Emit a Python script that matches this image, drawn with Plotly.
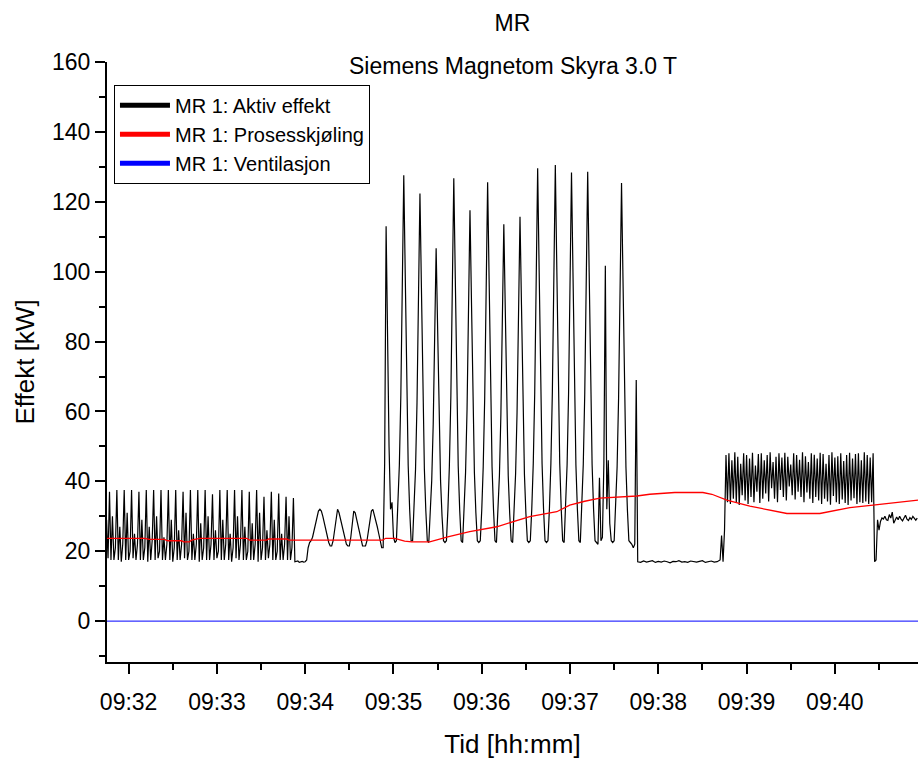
import pandas as pd
import plotly.graph_objects as go

BASE = pd.Timestamp("2024-01-01 09:31:45")

# ---------------- Black: MR 1: Aktiv effekt (kW), 1 s samples unless noted ----------------
# seconds after 09:31:45
p1_start = 0
phase1 = [29, 18,
          37, 17.5, 30, 17.5, 21,
          37.5, 17.5, 27, 17, 22,
          37.5, 17.5, 31, 17.5, 20,
          37.5, 18, 25, 17.5, 22,
          37, 17.5, 29, 17.5, 21,
          37.5, 17, 27, 17.5, 23,
          37.5, 17.5, 30, 18, 20,
          37.5, 17.5, 24, 17.5, 22,
          37.5, 17.5, 29, 17, 21,
          37.5, 17.5, 26, 17.5, 22,
          37, 18, 31, 17.5, 20,
          37.5, 17.5, 25, 17.5, 22,
          37.5, 17, 28, 17.5, 21,
          37.5, 17.5, 30, 17.5, 22,
          36.3, 17.5, 26, 18, 20,
          37.5, 17.5, 29, 17.5, 22,
          37.5, 17.5, 25, 17, 21,
          37.5, 18, 30, 17.5, 22,
          37.5, 17.5, 27, 17.5, 20,
          37, 17.5, 28, 17.5, 22,
          37.5, 17, 31, 17.5, 21,
          35.6, 17.5, 26, 18, 22,
          37, 17.5, 29, 17.5, 20,
          36.5, 17.5, 25, 17.5, 22,
          35.6, 17.5, 30, 17.5, 21,
          35.2, 17]

flat1_start = 129
flat1 = [17, 17.2, 16.8, 17, 17.1, 16.9, 17, 17.5]

p2_start = 137
phase2 = [21, 22.5, 23, 24, 26, 28, 30, 31.5, 32, 31.5, 30, 28, 26.5, 24, 22.5, 21.5,
          21.5, 23, 26, 29.5, 32, 31, 29, 27.5, 26, 24, 22, 21.5, 21.5, 24, 28, 31.5,
          31, 29, 27, 25, 23, 21.5, 21.5, 21.5, 23, 26, 29, 31.5, 32, 30.5, 28.5, 27,
          25, 23, 21, 21]

p3_start = 189
phase3 = [45, 113, 80, 50, 32, 34, 24, 22.5,
          23, 32, 44.6, 64.5, 99.2, 127.6, 99.2, 64.5, 44.6, 32, 23,
          23, 31.5, 43.5, 62.5, 95.4, 122.4, 95.4, 62.5, 43.5, 31.5, 23,
          22.5, 30.1, 40.2, 56.2, 84, 106.7, 84, 56.2, 40.2, 30.1, 23, 22.5,
          23, 31.9, 44.4, 64.2, 98.6, 126.7, 98.6, 64.2, 44.4, 31.9, 23,
          22.5, 31.1, 42.5, 60.5, 91.9, 117.6, 91.9, 60.5, 42.5, 31.1, 23, 22.5,
          23, 31.8, 44.2, 63.7, 97.8, 125.6, 97.8, 63.7, 44.2, 31.8, 23,
          22.5, 30.7, 41.6, 59, 89, 113.6, 89, 59, 41.6, 30.7, 23,
          22.5, 30.9, 42.1, 59.8, 90.5, 115.7, 90.5, 59.8, 42.1, 30.9, 23, 22.5,
          23, 32.1, 45, 65.3, 100.7, 129.6, 100.7, 65.3, 45, 32.1, 23, 22.5,
          23, 32.2, 45.2, 65.7, 101.3, 130.5, 101.3, 65.7, 45.2, 32.2, 23,
          22.5, 32, 44.7, 64.9, 99.8, 128.4, 99.8, 64.9, 44.7, 32, 23,
          22.5, 32, 44.8, 64.9, 100, 128.6, 100, 64.9, 44.8, 32, 23, 22.5,
          22, 41, 23, 24, 45, 101.7, 32, 46, 28, 23, 22.5,
          23, 31.8, 44.1, 63.7, 97.6, 125.4, 97.6, 63.7, 44.1, 31.8, 23, 22.5, 22, 21, 22, 69]

flat2_start = 361   # 2 s samples
flat2 = [17, 16.8, 17.2, 16.9, 17, 17.3, 16.8, 17.1, 16.9, 17.2, 17, 16.7, 17.1, 17,
         17.3, 16.9, 17, 16.8, 17.2, 17, 16.9, 17.1, 17.3, 16.8, 17, 17.2, 16.9, 17, 17.5]

trans_start = 418
trans = [24.5, 17, 26]

p5_start = 421
phase5 = [47.5, 34, 48, 33.5, 46, 35, 48.3, 34, 47, 33.2, 45, 36, 48, 34.5, 47.5, 33.5,
          46.5, 35.5, 48.2, 34, 44.5, 37, 47.8, 33.8, 48, 35, 46, 36.5, 47.5, 34.2,
          48.3, 38, 45.5, 35, 47, 34, 48, 37.5, 46.8, 35.5, 48.2, 34.5, 47, 38.5,
          44.8, 36, 48, 34.8, 47.5, 37, 46.2, 35.5, 48.3, 34, 47.2, 36.8, 45.5, 35,
          48, 33.8, 47.6, 35.5, 46.5, 34.5, 48.2, 33.5, 47.8, 35, 45, 34.2, 47.5, 33.3,
          48.3, 35.8, 46.8, 34, 47.2, 33.5, 48, 34.8, 45.8, 33.8, 47.5, 33.2, 48.2, 34.5,
          46.5, 35.2, 47.8, 33.5, 48, 34, 46, 33.8, 48.3, 34.2, 47.5, 33.5, 46.8, 34, 48]

p6_start = 522
phase6 = [17, 17.5, 29, 26, 28.5, 29.5, 29.2, 30, 29, 28.8, 30.5, 29.5, 31.2, 28, 29,
          29.8, 29, 30, 29.2, 28.7, 29.5, 30.3, 29.2, 28.8, 29.6, 29.1, 30, 29.4, 28.9, 29.5]

# ---------------- Red: MR 1: Prosesskjøling ----------------
red_s = [0, 25.8, 29.2, 39.4, 41.5, 51, 52.4, 56.4, 57.8, 63.2, 95.2, 97.2, 108.8, 110.2,
         122.4, 123.8, 187.7, 189.7, 195.8, 202.6, 207.4, 219.6, 231.9, 246.8, 265.2,
         287.6, 306, 314.8, 325, 335.2, 360.4, 369.2, 386.2, 405.3, 411.4, 421.6, 437.2,
         462.4, 484.8, 505.2, 520.9, 551.5]
red_v = [23.7, 23.7, 23.4, 23.4, 23.0, 23.0, 22.7, 22.7, 23.2, 23.7, 23.7, 23.2, 23.2, 23.5,
         23.5, 23.2, 23.2, 23.7, 23.7, 22.9, 22.7, 22.7, 24.1, 25.6, 27.0,
         29.9, 31.3, 33.2, 34.3, 35.2, 35.8, 36.3, 36.8, 36.8, 36.3, 34.6, 32.9,
         30.8, 30.8, 32.5, 33.2, 34.6]

# ---------------- Blue: MR 1: Ventilasjon ----------------
blue_s = [0, 551.5]
blue_v = [0, 0]

series_names = ["MR 1: Aktiv effekt", "MR 1: Prosesskjøling", "MR 1: Ventilasjon"]
y_ticks = [0, 20, 40, 60, 80, 100, 120, 140, 160]


def times(start, n, step=1.0):
    return [BASE + pd.Timedelta(seconds=start + i * step) for i in range(n)]


segments = [(p1_start, phase1, 1), (flat1_start, flat1, 1), (p2_start, phase2, 1),
            (p3_start, phase3, 1), (flat2_start, flat2, 2), (trans_start, trans, 1),
            (p5_start, phase5, 1), (p6_start, phase6, 1)]
black_x, black_y = [], []
for st, vals, stp in segments:
    black_x += times(st, len(vals), stp)
    black_y += vals

red_x = [BASE + pd.Timedelta(seconds=s) for s in red_s]
blue_x = [BASE + pd.Timedelta(seconds=s) for s in blue_s]

fig = go.Figure()
fig.add_trace(go.Scatter(x=blue_x, y=blue_v, mode="lines", line=dict(color="#0000ff", width=1),
                         showlegend=False))
fig.add_trace(go.Scatter(x=black_x, y=black_y, mode="lines", line=dict(color="#000000", width=1.2),
                         showlegend=False))
fig.add_trace(go.Scatter(x=red_x, y=red_v, mode="lines", line=dict(color="#ff0000", width=1.3),
                         showlegend=False))
for nm, col in zip(series_names, ["#000000", "#ff0000", "#0000ff"]):
    fig.add_trace(go.Scatter(x=[None], y=[None], mode="lines", name=nm,
                             line=dict(color=col, width=5)))

x0 = BASE + pd.Timedelta(seconds=0.3)
x1 = BASE + pd.Timedelta(seconds=551.5)

fig.update_layout(
    width=918, height=760,
    margin=dict(l=107, r=0, t=62, b=98),
    paper_bgcolor="white", plot_bgcolor="white",
    font=dict(family="Liberation Sans, Arial, sans-serif", color="black"),
    title=dict(text="MR", x=0.5, xref="paper", xanchor="center",
               y=1 - 23 / 760, yref="container", yanchor="middle", font=dict(size=23)),
    showlegend=True,
    legend=dict(x=0.0086, y=0.962, xanchor="left", yanchor="top", bgcolor="white",
                bordercolor="black", borderwidth=1, font=dict(size=20), tracegroupgap=0,
                itemwidth=50),
    annotations=[dict(text="Siemens Magnetom Skyra 3.0 T", x=0.5, y=0.9933, xref="paper",
                      yref="paper", xanchor="center", yanchor="middle", showarrow=False,
                      font=dict(size=23))],
)
fig.update_xaxes(
    type="date", range=[x0, x1], showline=True, linecolor="black", linewidth=2,
    ticks="outside", ticklen=10, tickwidth=1.5, tickcolor="black",
    tickformat="%H:%M", tick0="2024-01-01 09:32:00", dtick=60000,
    minor=dict(ticks="outside", ticklen=6, tickwidth=1.5, tickcolor="black", dtick=30000,
               showgrid=False),
    showgrid=False, zeroline=False, tickfont=dict(size=23), ticklabelstandoff=8,
    title=dict(text="Tid [hh:mm]", font=dict(size=26), standoff=21),
)
fig.update_yaxes(
    range=[-11.7, 160], tickvals=y_ticks, showline=True, linecolor="black", linewidth=2,
    ticks="outside", ticklen=10, tickwidth=1.5, tickcolor="black",
    minor=dict(ticks="outside", ticklen=6, tickwidth=1.5, tickcolor="black", dtick=10,
               showgrid=False),
    showgrid=False, zeroline=False, tickfont=dict(size=23),
    title=dict(text="Effekt [kW]", font=dict(size=26), standoff=10),
)

fig.write_html("out.html")
